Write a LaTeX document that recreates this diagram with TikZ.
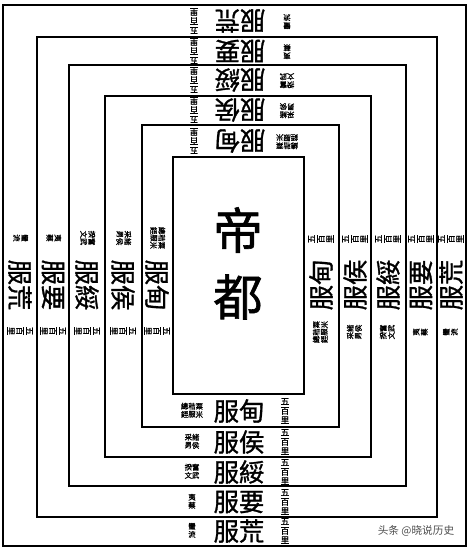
\documentclass[tikz,border=0pt]{standalone}
\usepackage{fontspec}
\setmainfont{Noto Sans CJK TC}
\newfontfamily\brush[FakeBold=1.2]{Noto Sans CJK TC}
\newfontfamily\scfont{Noto Sans CJK SC}
\newcommand{\vcol}[1]{\begin{tabular}[t]{@{}c@{}}#1\end{tabular}}
\renewcommand{\arraystretch}{0.85}
\tikzset{
  zone/.style={draw, line width=1pt},
  capital/.style={inner sep=0pt, font=\brush\fontsize{37}{37}\selectfont},
  zonename/.style={inner sep=0pt, font=\brush\fontsize{19}{19}\selectfont},
  li/.style={inner sep=0pt, align=center, font=\brush\fontsize{6.5}{7}\selectfont},
  note/.style={inner sep=0pt, font=\brush\fontsize{5.5}{6}\selectfont},
}
\begin{document}
\begin{tikzpicture}[x=0.75pt, y=-0.75pt]
  \useasboundingbox (0,0) rectangle (470,552);
  \newcommand{\zoneband}[6]{
    \begin{scope}[shift={(#2,#3)}, rotate=#4, transform shape]
      \node[zonename] (#1) at (0,0) {#5};
      \node[note] (#1-note) at (-47,0) {#6};
      \node[li] (#1-li) at (46,0) {五\\百\\里};
    \end{scope}
  }

  % the five zones, outside in
  \draw[zone] (3,5) rectangle (466,546);
  \draw[zone] (37,37) rectangle (437,517);
  \draw[zone] (69,65) rectangle (406,486);
  \draw[zone] (105,96) rectangle (371,457);
  \draw[zone] (142,125) rectangle (339,427);
  \draw[zone] (173,157) rectangle (304,394);

  % capital
  \node[capital] (di) at (238,230) {帝};
  \node[capital] (du) at (238,297) {都};

  % bottom
  \zoneband{dian-s}{239}{411}{0}{服甸}{\vcol{總\\銍}\vcol{秸\\服}\vcol{粟\\米}}
  \zoneband{hou-s}{239}{442}{0}{服侯}{\vcol{采\\男}\vcol{諸\\侯}}
  \zoneband{sui-s}{239}{472}{0}{服綏}{\vcol{揆\\文}\vcol{奮\\武}}
  \zoneband{yao-s}{239}{502}{0}{服要}{\vcol{夷\\蔡}}
  \zoneband{huang-s}{239}{531}{0}{服荒}{\vcol{蠻\\流}}

  % top
  \zoneband{dian-n}{240}{141}{180}{服甸}{\vcol{總\\銍}\vcol{秸\\服}\vcol{粟\\米}}
  \zoneband{hou-n}{240}{110}{180}{服侯}{\vcol{采\\男}\vcol{諸\\侯}}
  \zoneband{sui-n}{240}{80}{180}{服綏}{\vcol{揆\\文}\vcol{奮\\武}}
  \zoneband{yao-n}{240}{51}{180}{服要}{\vcol{夷\\蔡}}
  \zoneband{huang-n}{240}{21}{180}{服荒}{\vcol{蠻\\流}}

  % left
  \zoneband{dian-w}{157}{285}{-90}{服甸}{\vcol{總\\銍}\vcol{秸\\服}\vcol{粟\\米}}
  \zoneband{hou-w}{123}{285}{-90}{服侯}{\vcol{采\\男}\vcol{諸\\侯}}
  \zoneband{sui-w}{87}{285}{-90}{服綏}{\vcol{揆\\文}\vcol{奮\\武}}
  \zoneband{yao-w}{53}{285}{-90}{服要}{\vcol{夷\\蔡}}
  \zoneband{huang-w}{20}{285}{-90}{服荒}{\vcol{蠻\\流}}

  % right
  \zoneband{dian-e}{321}{285}{90}{服甸}{\vcol{總\\銍}\vcol{秸\\服}\vcol{粟\\米}}
  \zoneband{hou-e}{355}{285}{90}{服侯}{\vcol{采\\男}\vcol{諸\\侯}}
  \zoneband{sui-e}{388}{285}{90}{服綏}{\vcol{揆\\文}\vcol{奮\\武}}
  \zoneband{yao-e}{421}{285}{90}{服要}{\vcol{夷\\蔡}}
  \zoneband{huang-e}{451}{285}{90}{服荒}{\vcol{蠻\\流}}

  \node[font=\scfont\fontsize{8}{8}\selectfont, text=black!70] (mark) at (416,531) {头条 @晓说历史};
\end{tikzpicture}
\end{document}
